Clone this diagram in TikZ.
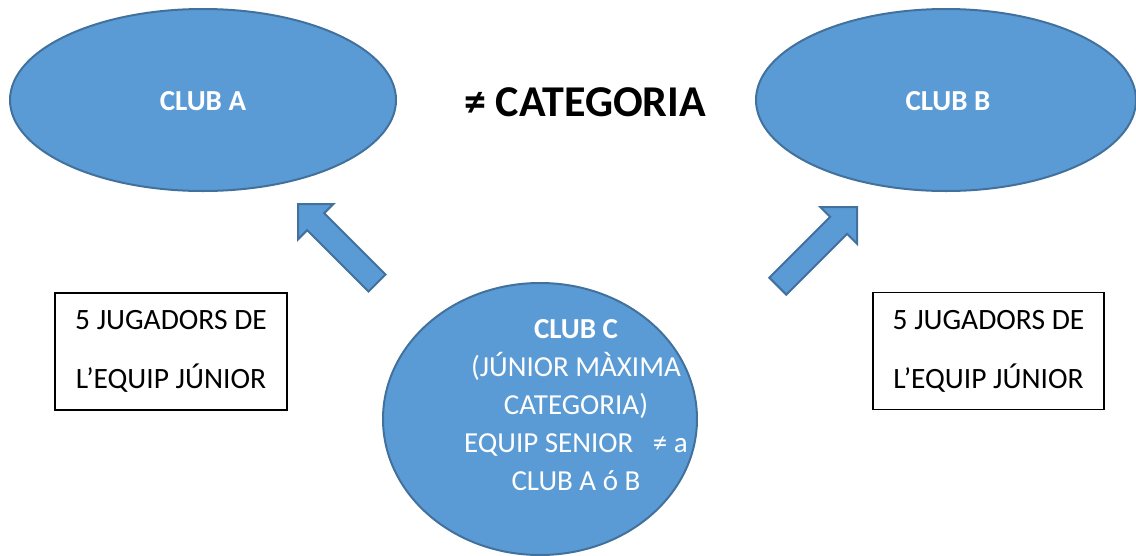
\documentclass[tikz,border=0pt]{standalone}
\usepackage{fontspec}
\setmainfont{Carlito}
\usetikzlibrary{shapes.geometric}
\definecolor{clubfill}{HTML}{5B9BD5}
\definecolor{clubline}{HTML}{41719C}
\tikzset{
  club/.style={ellipse, draw=clubline, fill=clubfill, line width=2pt, inner sep=0pt},
  clubtext/.style={text=white, font=\fontsize{29}{38}\selectfont\bfseries},
  ctext/.style={text=white, align=center, font=\fontsize{29}{38}\selectfont},
  infobox/.style={draw=black, line width=1.2pt, fill=white, minimum width=232pt, minimum height=117pt, align=center, inner sep=0pt, font=\fontsize{29.5}{59}\selectfont},
  blockarrow/.style={draw=clubline, fill=clubfill, line width=2pt, line join=miter},
  title/.style={font=\fontsize{44}{50}\selectfont\bfseries}
}
\begin{document}
\begin{tikzpicture}[x=1pt,y=-1pt]
\useasboundingbox (0,0) rectangle (1136,555);
% ellipses
\node[club, minimum width=386pt, minimum height=182pt] (clubA) at (203,100) {};
\node[club, minimum width=380pt, minimum height=182pt] (clubB) at (946,100) {};
\node[club, minimum width=314pt, minimum height=272pt] (clubC) at (540,419) {};
\node[clubtext] (clubAtext) at (203,101) {CLUB A};
\node[clubtext] (clubBtext) at (948,101) {CLUB B};
\node[ctext] (clubCtext) at (576,405) {\textbf{CLUB C}\\(JÚNIOR MÀXIMA\\CATEGORIA)\\EQUIP SENIOR \ \ ≠ a\\CLUB A ó B};
% title
\node[title] (cat) at (585,102) {≠ CATEGORIA};
% boxes
\node[infobox] (boxL) at (171,351.5) {5 JUGADORS DE\\L’EQUIP JÚNIOR};
\node[infobox, minimum width=231pt] (boxR) at (988.5,351) {5 JUGADORS DE\\L’EQUIP JÚNIOR};
% block arrows
\draw[blockarrow] (298,204) -- (333.4,204) -- (324.2,213.2) -- (385.5,274.5) -- (368.5,291.5) -- (307.2,230.2) -- (298,239.4) -- cycle;
\draw[blockarrow] (857,207) -- (857,243.8) -- (847.1,233.9) -- (786.3,294.7) -- (769.3,277.7) -- (830.1,216.9) -- (820.2,207) -- cycle;
\end{tikzpicture}
\end{document}
